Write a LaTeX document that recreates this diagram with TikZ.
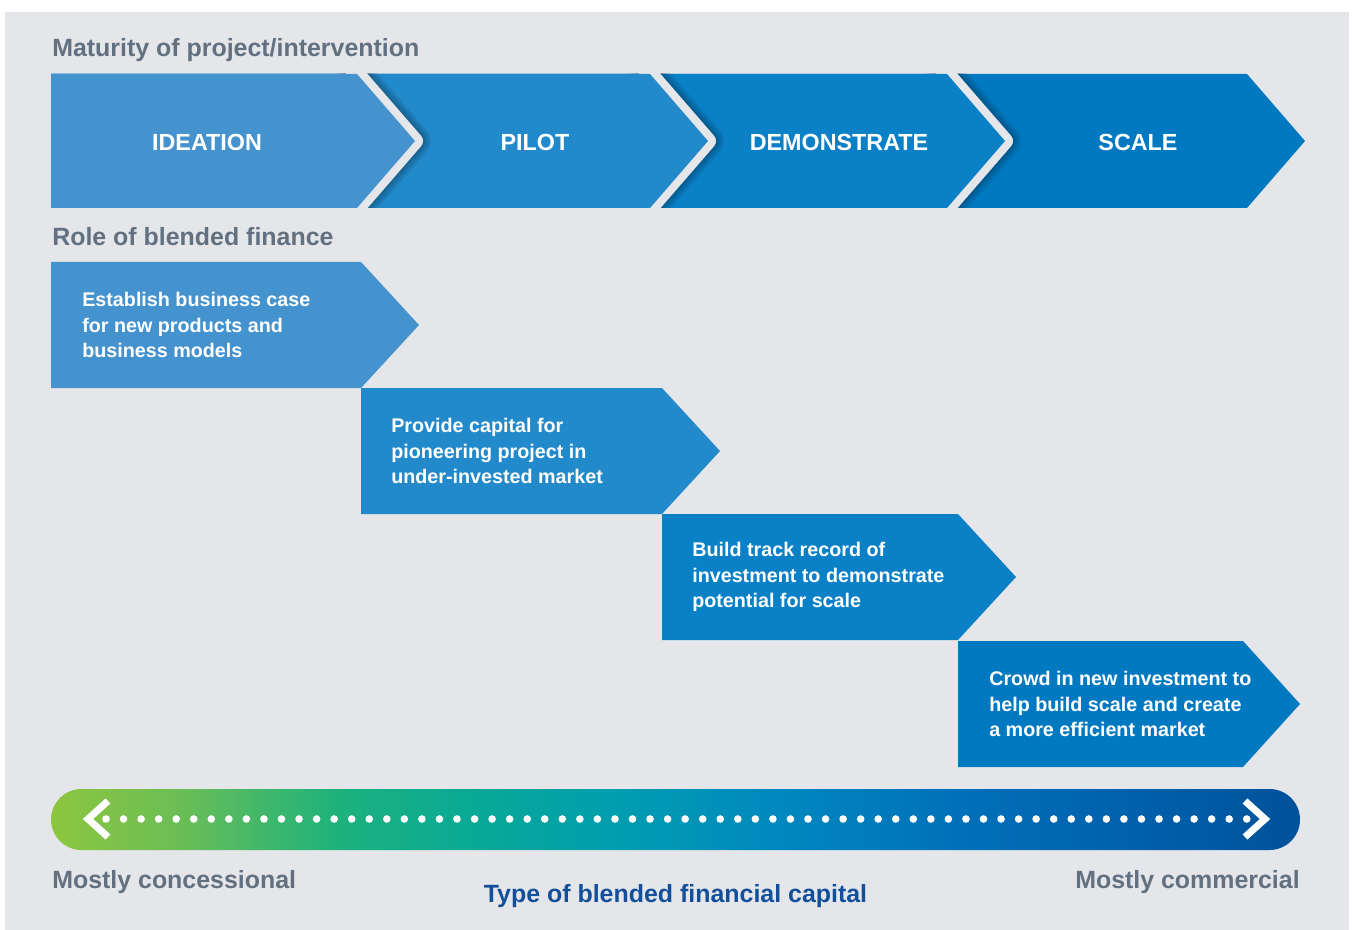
\documentclass[tikz,border=0pt]{standalone}
\usepackage{fontspec}
\setmainfont{Liberation Sans}

\definecolor{bgray}{HTML}{E5E6EA}
\definecolor{headgray}{HTML}{627080}
\definecolor{capblue}{HTML}{12509C}
\definecolor{ideation}{HTML}{4492CE}
\definecolor{pilot}{HTML}{2289CB}
\definecolor{demo}{HTML}{0A80C6}
\definecolor{scalecol}{HTML}{0079C1}
% colours along the capital bar
\definecolor{c0}{HTML}{8DC63F}
\definecolor{c1}{HTML}{6CBE55}
\definecolor{c2}{HTML}{1DB27C}
\definecolor{c3}{HTML}{0AAA94}
\definecolor{c4}{HTML}{009EAF}
\definecolor{c5}{HTML}{0088BF}
\definecolor{c6}{HTML}{0071BA}
\definecolor{c7}{HTML}{0062AE}
\definecolor{c8}{HTML}{00529A}
\pgfdeclarehorizontalshading{capital}{100bp}{color(0bp)=(c0); color(25bp)=(c0);
  color(30bp)=(c1); color(36.5bp)=(c2); color(41.5bp)=(c3); color(47.5bp)=(c4);
  color(54bp)=(c5); color(61bp)=(c6); color(67.5bp)=(c7); color(75bp)=(c8); color(100bp)=(c8)}

\begin{document}
\begin{tikzpicture}[x=0.75pt, y=-0.75pt,
    heading/.style={text=headgray, font=\fontsize{18.7}{22}\selectfont\bfseries, inner sep=0pt},
    stage/.style={text=white, font=\fontsize{17.5}{21}\selectfont\bfseries, inner sep=0pt, anchor=base},
    role/.style={text=white, font=\fontsize{14.8}{19.1}\selectfont\bfseries, align=left, anchor=west, inner sep=0pt},
    rim/.style={draw=bgray, line width=12pt, line join=round}]
        \fill[white] (0,0) rectangle (1352,930);
        \fill[bgray] (5,12) rectangle (1349,930);

        % stages, drawn back to front
        \begin{scope}
            \clip (51,74) rectangle (1349,208);
            \fill[scalecol] (51,74) -- (1247,74) -- (1305,141) -- (1247,208) -- (51,208) -- cycle;
            \foreach \c/\col in {947/demo, 650/pilot, 357/ideation}{
                \foreach \w in {24,21,18,15}
                    \draw[black, opacity=0.07, line width=\w pt, line join=round] (\c-11.6,60.6) -- (\c+58,141) -- (\c-11.6,221.4);
                \draw[rim] (\c-11.6,60.6) -- (\c+58,141) -- (\c-11.6,221.4);
                \fill[\col] (51,74) -- (\c,74) -- (\c+58,141) -- (\c,208) -- (51,208) -- cycle;
            }
        \end{scope}
        \node[stage] (ideationlabel) at (207,151) {IDEATION};
        \node[stage] (pilotlabel) at (535,151) {PILOT};
        \node[stage] (demolabel) at (839,151) {DEMONSTRATE};
        \node[stage] (scalelabel) at (1138,151) {SCALE};

        \node[heading, anchor=base west] (maturity) at (52,57) {Maturity of project/intervention};
        \node[heading, anchor=base west] (role) at (52,246) {Role of blended finance};

        % role of blended finance, one step per stage
        \fill[ideation] (51,262) -- (361,262) -- (419,325) -- (361,388) -- (51,388) -- cycle;
        \fill[pilot] (361,388) -- (662,388) -- (720,451) -- (662,514) -- (361,514) -- cycle;
        \fill[demo] (662,514) -- (958,514) -- (1016,577) -- (958,640) -- (662,640) -- cycle;
        \fill[scalecol] (958,641) -- (1243,641) -- (1300,704) -- (1243,767) -- (958,767) -- cycle;
        \node[role] (establish) at (82,325) {Establish business case\\for new products and\\business models};
        \node[role] (provide) at (391,451) {Provide capital for\\pioneering project in\\under-invested market};
        \node[role] (build) at (692,577) {Build track record of\\investment to demonstrate\\potential for scale};
        \node[role] (crowd) at (989,704) {Crowd in new investment to\\help build scale and create\\a more efficient market};

        % capital bar
        \shade[shading=capital, rounded corners=22.9pt] (51,789) rectangle (1300,850);
        \foreach \i in {0,...,65}
            \fill[white] (106+17.55*\i,819) circle[radius=2.85pt];
        \draw[white, line width=5.25pt, miter limit=10] (108,801) -- (88,819) -- (108,837);
        \draw[white, line width=5.25pt, miter limit=10] (1245,801) -- (1265,819) -- (1245,837);

        \node[heading, anchor=base west] (concessional) at (52,888) {Mostly concessional};
        \node[heading, anchor=base east] (commercial) at (1300,888) {Mostly commercial};
        \node[heading, anchor=base, text=capblue] (capital) at (675.5,902) {Type of blended financial capital};
\end{tikzpicture}
\end{document}
